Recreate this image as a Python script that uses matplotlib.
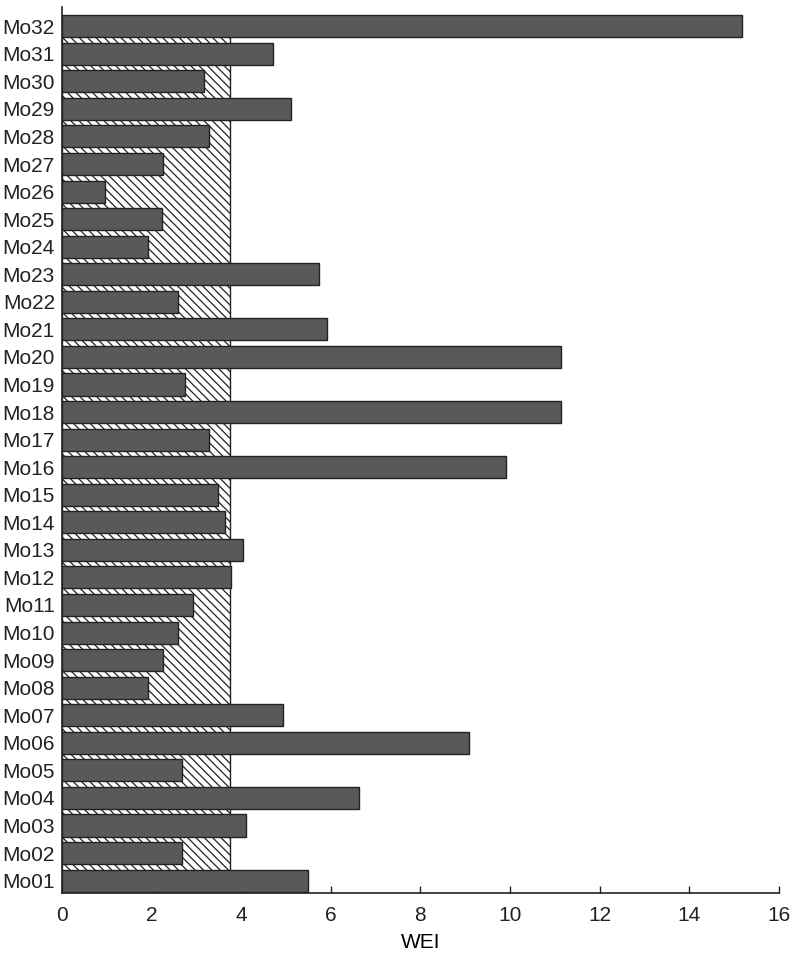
import matplotlib
matplotlib.use("Agg")
import matplotlib.pyplot as plt
from matplotlib.patches import Rectangle

labels = [f"Mo{i:02d}" for i in range(1, 33)]
values = [5.49, 2.69, 4.11, 6.64, 2.69, 9.08, 4.94, 1.91, 2.26, 2.59,
          2.93, 3.77, 4.03, 3.65, 3.48, 9.90, 3.29, 11.14, 2.75, 11.14,
          5.92, 2.58, 5.73, 1.91, 2.23, 0.97, 2.26, 3.29, 5.12, 3.18,
          4.70, 15.18]
threshold = 3.74
xticks = [0, 2, 4, 6, 8, 10, 12, 14, 16]

plt.rcParams['font.family'] = ['Liberation Sans', 'DejaVu Sans']
plt.rcParams['hatch.linewidth'] = 0.9
plt.rcParams['hatch.color'] = '#222222'

fig = plt.figure(figsize=(7.94, 9.59), dpi=100)
ax = fig.add_axes([0.078, 0.0688, 0.903, 0.924])

ypos = list(range(len(labels)))
ax.set_ylim(-0.45, len(labels) - 0.3)
ax.set_xlim(0, 16)

rect = Rectangle((0, -0.45), threshold, len(labels) - 1 + 0.45,
                 facecolor='white', edgecolor='#222222', hatch='\\\\\\\\',
                 linewidth=1.0, zorder=1)
ax.add_patch(rect)

ax.barh(ypos, values, height=0.8, color='#595959', edgecolor='#222222',
        linewidth=1.0, zorder=2)

fs = 15
ax.set_yticks(ypos)
ax.set_yticklabels(labels, fontsize=fs)
ax.set_xticks(xticks)
ax.set_xticklabels([str(t) for t in xticks], fontsize=fs)
ax.set_xlabel("WEI", fontsize=fs, labelpad=6)

ax.tick_params(axis='x', direction='in', length=5, width=1, colors='#222222',
               labelcolor='#222222', pad=9)
ax.tick_params(axis='y', length=0, pad=5, labelcolor='#222222')

for s in ['top', 'right']:
    ax.spines[s].set_visible(False)
for s in ['left', 'bottom']:
    ax.spines[s].set_color('#222222')
    ax.spines[s].set_linewidth(1.2)

fig.savefig("out.png", dpi=100)
